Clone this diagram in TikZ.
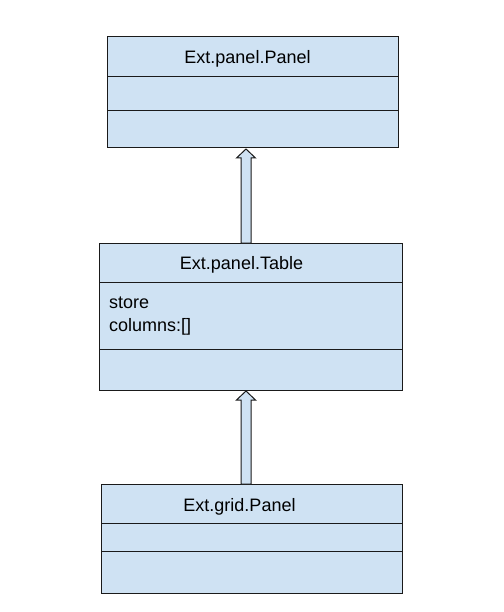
\documentclass[tikz,border=0pt]{standalone}
\usepackage{fontspec}
\setmainfont{Liberation Sans}
\usetikzlibrary{calc}
\definecolor{boxfill}{HTML}{CFE2F3}
\definecolor{edge}{HTML}{1A1A1A}
\begin{document}
\begin{tikzpicture}[x=1pt,y=-1pt,
  classbox/.style={draw=edge,fill=boxfill,line width=1pt,rectangle,inner sep=0pt,outer sep=0pt},
  divider/.style={draw=edge,line width=1pt},
  label/.style={font=\fontsize{18}{21}\selectfont,inner sep=0pt,anchor=base,text=black},
  attr/.style={font=\fontsize{18}{21}\selectfont,inner sep=0pt,anchor=base west,text=black},
  inherit/.style={draw=edge,fill=boxfill,line width=1pt,line join=miter}]
\useasboundingbox (0,0) rectangle (503,612);
% boxes
\node[classbox,minimum width=291pt,minimum height=111pt] (panel) at (252.5,92.5) {};
\node[classbox,minimum width=303pt,minimum height=147pt] (table) at (250.5,316.5) {};
\node[classbox,minimum width=301pt,minimum height=109pt] (grid) at (251.5,538.5) {};
% dividers
\draw[divider] (panel.west |- 0,77) -- (panel.east |- 0,77);
\draw[divider] (panel.west |- 0,111) -- (panel.east |- 0,111);
\draw[divider] (table.west |- 0,282) -- (table.east |- 0,282);
\draw[divider] (table.west |- 0,349) -- (table.east |- 0,349);
\draw[divider] (grid.west |- 0,523) -- (grid.east |- 0,523);
\draw[divider] (grid.west |- 0,551) -- (grid.east |- 0,551);
% texts
\node[label] (panelname) at (247.5,64) {Ext.panel.Panel};
\node[label] (tablename) at (241.5,269) {Ext.panel.Table};
\node[attr] (store) at (109,308) {store};
\node[attr] (columns) at (109,331) {columns:[]};
\node[label] (gridname) at (239.5,511) {Ext.grid.Panel};
% inheritance arrows
\coordinate (ax) at (246,0);
\coordinate (tip1) at ($(ax |- panel.south)+(0,1)$);
\coordinate (base1) at (ax |- table.north);
\coordinate (tip2) at ($(ax |- table.south)+(0,1)$);
\coordinate (base2) at (ax |- grid.north);
\draw[inherit] ($(base1)+(-5,0)$) -- ($(tip1)+(-5,9)$) -- ($(tip1)+(-9.5,9)$) -- (tip1)
  -- ($(tip1)+(9.5,9)$) -- ($(tip1)+(5,9)$) -- ($(base1)+(5,0)$) -- cycle;
\draw[inherit] ($(base2)+(-5,0)$) -- ($(tip2)+(-5,9)$) -- ($(tip2)+(-9.5,9)$) -- (tip2)
  -- ($(tip2)+(9.5,9)$) -- ($(tip2)+(5,9)$) -- ($(base2)+(5,0)$) -- cycle;
\end{tikzpicture}
\end{document}
